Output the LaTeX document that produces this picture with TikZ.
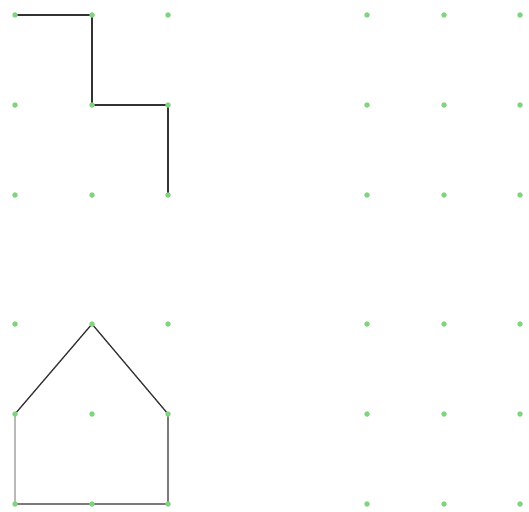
\documentclass[tikz,border=0pt]{standalone}
\usepackage{xcolor}
\usepackage{tikz}
\usetikzlibrary{positioning, calc, backgrounds}

\definecolor{dotgreen}{RGB}{128,212,128}
\definecolor{penline}{RGB}{50,50,50}

\begin{document}
\begin{tikzpicture}[
    x=1pt, y=-1pt,
    dot/.style={circle, fill=dotgreen, inner sep=0pt, minimum size=5.5pt},
    stroke/.style={draw=penline, line width=1.3pt},
    faint/.style={draw=gray!55, line width=1.3pt},
]
\useasboundingbox (0,0) rectangle (529,511);

% dot grids
\foreach \g/\ox/\oy in {tl/15/15, tr/367/15, bl/15/324, br/367/324} {
  \foreach \i/\dx in {0/0, 1/77, 2/153} {
    \foreach \j/\dy in {0/0, 1/90, 2/180} {
      \node[dot] (\g-\i\j) at (\ox+\dx, \oy+\dy) {};
    }
  }
}

\begin{scope}[on background layer]
% stair path
\draw[stroke] (tl-00.center) -- (tl-10.center) -- (tl-11.center) -- (tl-21.center) -- (tl-22.center);

% house
\draw[faint] (bl-02.center) -- (bl-01.center);
\draw[stroke] (bl-01.center) -- (bl-10.center) -- (bl-21.center) -- (bl-22.center) -- (bl-02.center);
\end{scope}
\end{tikzpicture}
\end{document}
